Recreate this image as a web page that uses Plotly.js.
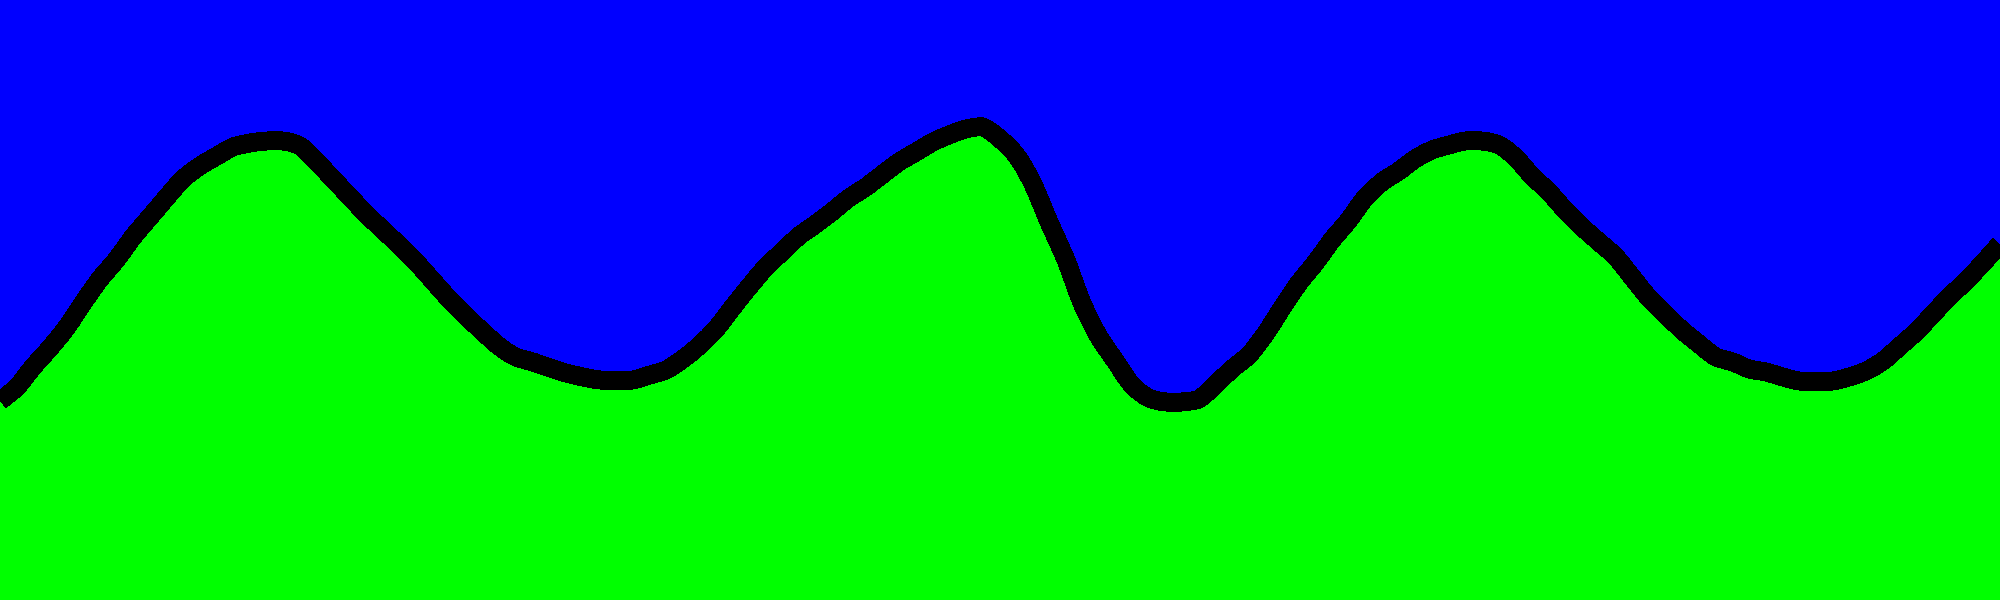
<!DOCTYPE html>
<html>
<head>
<meta charset="utf-8">
<script src="https://cdn.plot.ly/plotly-3.0.1.min.js"></script>
<style>
  html, body { margin: 0; padding: 0; background: #0000ff; overflow: hidden; }
  #chart { width: 2000px; height: 600px; }
  #chart path.js-line, #chart path.js-fill { shape-rendering: crispEdges !important; }
</style>
</head>
<body>
<div id="chart"></div>
<script>
// Data
const xValues = [0,17,33,50,67,83,100,117,133,150,167,183,200,217,233,250,267,283,300,317,333,
  350,366,383,400,416,433,450,466,483,500,516,533,550,566,583,600,616,633,650,666,
  683,699,716,733,749,766,783,799,816,833,849,866,883,899,916,933,949,966,983,999,
  1016,1032,1049,1066,1082,1099,1116,1132,1149,1166,1182,1199,1216,1232,1249,1266,1282,1299,1316,1332,
  1349,1365,1382,1399,1415,1432,1449,1465,1482,1499,1515,1532,1549,1565,1582,1599,1615,1632,1649,1665,
  1683,1699,1716,1733,1749,1766,1783,1799,1816,1833,1849,1866,1883,1899,1916,1933,1949,1966,1983,2000];
const yValues = [199,213,233,252,273,297,321,341,363,383,403,421,434,444,453,457,459,459,454,438,421,
  403,386,370,354,338,319,300,284,268,253,243,238,232,227,223,220,220,220,225,230,
  241,254,271,293,313,333,349,364,376,389,402,413,426,438,448,458,465,471,473,462,
  445,418,378,340,297,263,238,215,202,198,198,201,216,231,245,267,292,317,338,360,
  380,402,418,429,441,450,455,459,459,455,443,424,408,390,373,358,344,323,302,286,
  269,256,243,238,231,228,223,219,219,219,223,229,239,253,268,286,303,319,337,356];

const trace = {
  x: xValues,
  y: yValues,
  type: 'scatter',
  mode: 'lines',
  fill: 'tozeroy',
  fillcolor: '#00ff00',
  line: { color: '#000000', width: 19, shape: 'spline', smoothing: 0.8 },
  hoverinfo: 'skip'
};

const layout = {
  width: 2000,
  height: 600,
  margin: { l: 0, r: 0, t: 0, b: 0, pad: 0 },
  paper_bgcolor: '#0000ff',
  plot_bgcolor: '#0000ff',
  showlegend: false,
  xaxis: { range: [0, 2000], visible: false, showgrid: false, zeroline: false, fixedrange: true },
  yaxis: { range: [0, 600], visible: false, showgrid: false, zeroline: false, fixedrange: true }
};

Plotly.newPlot('chart', [trace], layout, { staticPlot: true, displayModeBar: false });
</script>
</body>
</html>
